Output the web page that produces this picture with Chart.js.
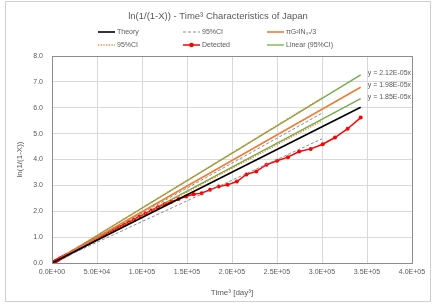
<!DOCTYPE html>
<html>
<head>
<meta charset="utf-8">
<script src="https://cdn.jsdelivr.net/npm/chart.js@4.4.0/dist/chart.umd.min.js"></script>
<style>
  html, body { margin: 0; padding: 0; background: #fff; }
  #wrap { width: 436px; height: 306px; }
</style>
</head>
<body>
<div id="wrap"><canvas id="chart" width="436" height="306"></canvas></div>
<script>
// x axis is Time^3, detected points are one per day
const days = [1, 2, 3, 4, 5, 6, 7, 8, 9, 10,
  11, 12, 13, 14, 15, 16, 17, 18, 19, 20,
  21, 22, 23, 24, 25, 26, 27, 28, 29, 30,
  31, 32, 33, 34, 35, 36, 37, 38, 39, 40,
  41, 42, 43, 44, 45, 46, 47, 48, 49, 50,
  51, 52, 53, 54, 55, 56, 57, 58, 59, 60,
  61, 62, 63, 64, 65, 66, 67, 68, 69, 70];
const detected = [0.00, 0.00, 0.00, 0.00, 0.00, 0.00, 0.01, 0.01, 0.01, 0.02,
  0.03, 0.03, 0.04, 0.05, 0.06, 0.08, 0.09, 0.11, 0.13, 0.15,
  0.18, 0.20, 0.23, 0.26, 0.30, 0.33, 0.37, 0.42, 0.46, 0.51,
  0.56, 0.62, 0.68, 0.74, 0.81, 0.89, 0.96, 1.04, 1.12, 1.21,
  1.30, 1.39, 1.48, 1.58, 1.68, 1.80, 1.91, 2.03, 2.15, 2.27,
  2.37, 2.47, 2.57, 2.66, 2.70, 2.83, 2.96, 3.02, 3.15, 3.42,
  3.54, 3.80, 3.95, 4.09, 4.31, 4.41, 4.59, 4.85, 5.19, 5.62];

// straight lines (start / end)
const fullX = [0, 343000];
const theory = [0, 6.02];
const piG2IN = [0, 6.79];
const linearUpper = [0, 7.27];
const linearLower = [0, 6.35];

const ciX = [0, 300000];
const ciGreyUpper = [0, 5.79];
const ciGreyLower = [0, 4.80];
const ciOrangeUpper = [0, 6.38];
const ciOrangeLower = [0, 5.49];

const slopeLabels = ['y = 2.12E-05x', 'y = 1.98E-05x', 'y = 1.85E-05x'];

const xMax = 400000, xStep = 50000;
const yMax = 8, yStep = 1;

const TXT = '#595959';
const FONT = '"Liberation Sans", Arial, sans-serif';

function pts(xs, ys) {
  return xs.map((x, i) => ({x: x, y: ys[i]}));
}

const detectedPts = days.map((d, i) => ({x: d * d * d, y: detected[i]}));

function lineSet(label, xs, ys, color, width, dash) {
  return {
    label: label,
    data: pts(xs, ys),
    showLine: true,
    borderColor: color,
    backgroundColor: color,
    borderWidth: width,
    borderDash: dash || [],
    pointRadius: 0,
    pointHoverRadius: 0,
    fill: false
  };
}

const datasets = [
  lineSet('Theory', fullX, theory, '#000000', 1.6),
  lineSet('95%CI', ciX, ciGreyUpper, '#8c8c8c', 1, [3, 2]),
  lineSet('95%CI', ciX, ciGreyLower, '#8c8c8c', 1, [3, 2]),
  lineSet('πG²IN₀ᵣ/3', fullX, piG2IN, '#ed7d31', 1.6),
  lineSet('95%CI', ciX, ciOrangeUpper, '#ed7d31', 1.4, [1.2, 1.5]),
  lineSet('95%CI', ciX, ciOrangeLower, '#ed7d31', 1.4, [1.2, 1.5]),
  {
    label: 'Detected',
    data: detectedPts,
    showLine: true,
    borderColor: '#ff0000',
    backgroundColor: '#ff0000',
    borderWidth: 1.5,
    pointRadius: 2,
    pointBorderWidth: 0,
    pointHoverRadius: 2,
    fill: false
  },
  lineSet('Linear (95%CI)', fullX, linearUpper, '#70ad47', 1.3),
  lineSet('Linear (95%CI)', fullX, linearLower, '#70ad47', 1.3)
];

// legend entries: [dataset index, column, row]
const legendItems = [[0, 0, 0], [1, 1, 0], [3, 2, 0], [4, 0, 1], [6, 1, 1], [7, 2, 1]];
const legendColX = [98, 183, 267];
const legendRowY = [32, 45];

function sci(v) {
  if (v === 0) return '0.0E+00';
  const parts = v.toExponential(1).split('e');
  let exp = parseInt(parts[1], 10);
  const sign = exp < 0 ? '-' : '+';
  exp = Math.abs(exp);
  return parts[0] + 'E' + sign + (exp < 10 ? '0' : '') + exp;
}

const decor = {
  id: 'decor',
  beforeDraw(chart) {
    const ctx = chart.ctx;
    ctx.save();
    ctx.fillStyle = '#ffffff';
    ctx.fillRect(0, 0, chart.width, chart.height);
    ctx.strokeStyle = '#d0d0d0';
    ctx.lineWidth = 1;
    ctx.strokeRect(5.5, 1.5, 425, 300);
    ctx.restore();
  },
  afterDraw(chart) {
    const ctx = chart.ctx;
    const a = chart.chartArea;
    ctx.save();
    // plot frame
    ctx.strokeStyle = '#8c8c8c';
    ctx.lineWidth = 1;
    ctx.strokeRect(Math.round(a.left) + 0.5, Math.round(a.top) + 0.5,
      Math.round(a.right - a.left), Math.round(a.bottom - a.top));

    // title
    ctx.fillStyle = TXT;
    ctx.font = '9.5px ' + FONT;
    ctx.textAlign = 'center';
    ctx.textBaseline = 'middle';
    ctx.fillText('ln(1/(1-X)) - Time³ Characteristics of Japan', 218, 16);

    // legend
    ctx.font = '7px ' + FONT;
    ctx.textAlign = 'left';
    legendItems.forEach(([di, col, row]) => {
      const ds = chart.data.datasets[di];
      const x0 = legendColX[col], y = legendRowY[row];
      ctx.save();
      ctx.strokeStyle = ds.borderColor;
      ctx.lineWidth = ds.borderWidth;
      ctx.setLineDash(ds.borderDash || []);
      ctx.beginPath();
      ctx.moveTo(x0, y);
      ctx.lineTo(x0 + 17, y);
      ctx.stroke();
      if (ds.pointRadius) {
        ctx.fillStyle = ds.backgroundColor;
        ctx.beginPath();
        ctx.arc(x0 + 8.5, y, ds.pointRadius + 0.3, 0, Math.PI * 2);
        ctx.fill();
      }
      ctx.restore();
      ctx.fillStyle = TXT;
      ctx.fillText(ds.label, x0 + 19, y + 0.5);
    });

    // trendline equations next to line ends
    const xs = chart.scales.x, ys = chart.scales.y;
    const ends = [
      [fullX[1], linearUpper[1]],
      [fullX[1], piG2IN[1]],
      [fullX[1], linearLower[1]]
    ];
    ctx.font = '7px ' + FONT;
    ctx.fillStyle = TXT;
    ends.forEach((e, i) => {
      const px = xs.getPixelForValue(e[0]) + 7;
      const py = ys.getPixelForValue(e[1]) - 2;
      ctx.fillText(slopeLabels[i], px, py);
    });
    ctx.restore();
  }
};

new Chart(document.getElementById('chart'), {
  type: 'scatter',
  data: { datasets: datasets },
  options: {
    responsive: false,
    animation: false,
    events: [],
    layout: { padding: { left: 0, right: 24, top: 56, bottom: 5 } },
    plugins: {
      legend: { display: false },
      title: { display: false },
      tooltip: { enabled: false }
    },
    scales: {
      x: {
        type: 'linear',
        min: 0,
        max: xMax,
        afterFit(scale) { scale.height = 38; },
        ticks: {
          stepSize: xStep,
          color: TXT,
          font: { family: FONT, size: 7 },
          padding: 5,
          maxRotation: 0,
          callback: (v) => sci(v)
        },
        grid: { color: '#d9d9d9', drawTicks: false },
        border: { display: false },
        title: {
          display: true,
          text: 'Time³ [day³]',
          color: TXT,
          font: { family: FONT, size: 8 },
          padding: { top: 0, bottom: 3 }
        }
      },
      y: {
        type: 'linear',
        min: 0,
        max: yMax,
        afterFit(scale) { scale.width = 52; },
        ticks: {
          stepSize: yStep,
          color: TXT,
          font: { family: FONT, size: 7 },
          padding: 9,
          callback: (v) => v.toFixed(1)
        },
        grid: { color: '#d9d9d9', drawTicks: false },
        border: { display: false },
        title: {
          display: true,
          text: 'ln(1/(1-X))',
          color: TXT,
          font: { family: FONT, size: 8 },
          padding: { top: 15, bottom: 0 }
        }
      }
    }
  },
  plugins: [decor]
});
</script>
</body>
</html>
